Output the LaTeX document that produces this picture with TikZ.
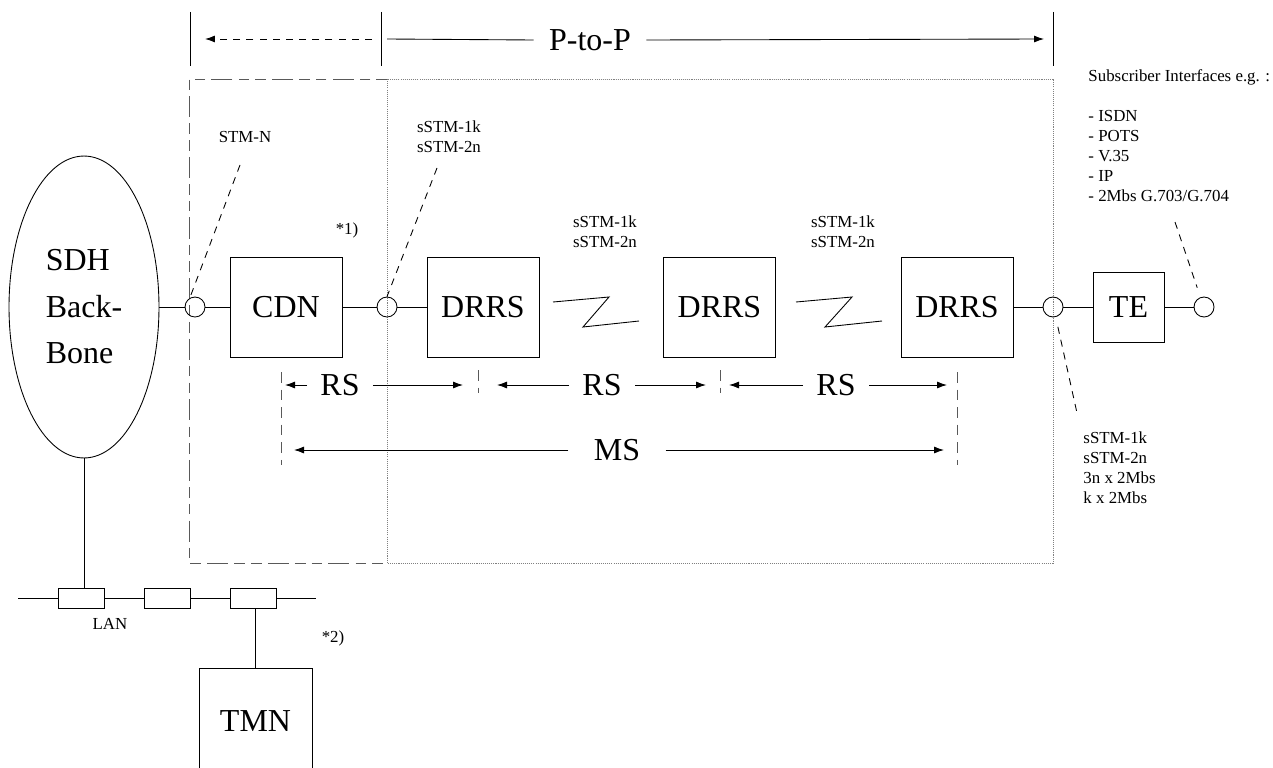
\documentclass[tikz,border=0pt]{standalone}
\usepackage{fontspec}
\setmainfont{Liberation Serif}
\usetikzlibrary{arrows.meta,shapes.geometric}
\newcommand{\bigtxt}{\fontsize{18.2}{26.5}\selectfont}
\newcommand{\smalltxt}{\fontsize{9.6}{11.4}\selectfont}

\begin{document}
\begin{tikzpicture}[x=0.02cm,y=-0.02cm,line width=0.5pt,
    unitbox/.style={draw,rectangle,minimum width=2.24cm,minimum height=2cm,font=\bigtxt,inner sep=0pt},
    port/.style={draw,circle,minimum size=0.4cm,inner sep=0pt},
    lanbox/.style={draw,rectangle,minimum width=0.92cm,minimum height=0.4cm,inner sep=0pt},
    lbl/.style={font=\smalltxt,align=left,inner sep=0pt},
    big/.style={font=\bigtxt,inner ysep=0pt,inner xsep=0.26cm},
    lead/.style={dash pattern=on 4pt off 3.5pt},
    septick/.style={gray!70!black,dash pattern=on 6pt off 4pt},
    dimarrow/.style={-{Latex[length=0.2cm,width=0.14cm]}}]
    \useasboundingbox (0,0) rectangle (1273,767);
    \clip (0,0) rectangle (1273,767);

    % frames
    \draw[gray!70!black,dash pattern=on 6pt off 3.5pt on 6pt off 3.5pt on 12pt off 3.5pt] (387,79) -- (189,79) -- (189,563) -- (387,563);
    \draw[gray,line width=0.4pt,dash pattern=on 0.6pt off 0.6pt] (387,79) rectangle (1053,563);

    % P-to-P span
    \draw (190,12) -- (190,66);
    \draw (381,12) -- (381,66);
    \draw (1053,12) -- (1053,66);
    \coordinate (bl) at (190,39);
    \coordinate (bm) at (381,39);
    \coordinate (br) at (1053,39);
    \node[big,inner xsep=0.3cm] (ptp) at (590,40) {P-to-P};
    \draw[lead,dimarrow] ([xshift=-0.18cm]bm) -- ([xshift=0.3cm]bl);
    \draw ([xshift=0.12cm]bm) -- (ptp.west);
    \draw[dimarrow] (ptp.east) -- ([xshift=-0.18cm]br);

    % main chain
    \node[draw,ellipse,minimum width=3cm,minimum height=6.04cm,font=\bigtxt,align=left,inner sep=0pt] (sdh) at (84,307) {SDH\\Back-\\Bone};
    \node[port] (p1) at (195,307) {};
    \node[unitbox] (cdn) at (286,307) {CDN};
    \node[port] (p2) at (387,307) {};
    \node[unitbox] (d1) at (483,307) {DRRS};
    \node[unitbox] (d2) at (719.5,307) {DRRS};
    \node[unitbox] (d3) at (957,307) {DRRS};
    \node[port] (p3) at (1053,307) {};
    \node[unitbox,minimum width=1.42cm,minimum height=1.4cm] (te) at (1128.5,307) {TE};
    \node[port] (p4) at (1204,307) {};
    \draw (sdh.east) -- (p1) -- (cdn) -- (p2) -- (d1);
    \draw (d3) -- (p3) -- (te) -- (p4);

    % radio hops
    \draw (553,302) -- (609,297) -- (583,327) -- (639,321);
    \draw (796,302) -- (852,297) -- (825,327) -- (882,321);

    % labels
    \node[lbl] (stmn) at (245,137) {STM-N};
    \node[lbl] (s1) at (449,137) {sSTM-1k\\sSTM-2n};
    \node[lbl] (s2) at (605,232) {sSTM-1k\\sSTM-2n};
    \node[lbl] (s3) at (843,232) {sSTM-1k\\sSTM-2n};
    \node[lbl] (star1) at (347,230) {*1)};
    \node[lbl,anchor=west] (subs) at (1088,136) {Subscriber Interfaces e.g. :\\[0.4cm]- ISDN\\- POTS\\- V.35\\- IP\\- 2Mbs G.703/G.704};
    \node[lbl,anchor=west] (tx) at (1083,468) {sSTM-1k\\sSTM-2n\\3n x 2Mbs\\k x 2Mbs};

    % leaders
    \coordinate (l1) at (240,165);
    \coordinate (l2) at (437,168);
    \coordinate (l3) at (1077,413);
    \coordinate (l4) at (1175,222);
    \draw[lead] (l1) -- (p1.120);
    \draw[lead] (l2) -- (p2.north);
    \draw[lead,shorten <=0.2cm] (p3.-75) -- (l3);
    \draw[lead,shorten >=0.2cm] (l4) -- (p4.110);

    % RS / MS sections
    \foreach \x in {281,957} \draw[septick] (\x,372) -- (\x,465);
    \foreach \x in {478,720} \draw[septick] (\x,370) -- (\x,393);
    \coordinate (t0) at (281,385);
    \coordinate (t1) at (478,385);
    \coordinate (t2) at (720,385);
    \coordinate (t3) at (957,385);
    \coordinate (m0) at (281,450);
    \coordinate (m3) at (957,450);
    \node[big] (rs1) at (340,385) {RS};
    \node[big] (rs2) at (602,385) {RS};
    \node[big] (rs3) at (836,385) {RS};
    \node[big,inner xsep=0.5cm] (ms) at (617,450) {MS};
    \draw[dimarrow] (rs1.west) -- ([xshift=0.08cm]t0);
    \draw[dimarrow] (rs1.east) -- ([xshift=-0.3cm]t1);
    \draw[dimarrow] (rs2.west) -- ([xshift=0.38cm]t1);
    \draw[dimarrow] (rs2.east) -- ([xshift=-0.28cm]t2);
    \draw[dimarrow] (rs3.west) -- ([xshift=0.18cm]t2);
    \draw[dimarrow] (rs3.east) -- ([xshift=-0.2cm]t3);
    \draw[dimarrow] (ms.west) -- ([xshift=0.26cm]m0);
    \draw[dimarrow] (ms.east) -- ([xshift=-0.26cm]m3);

    % management LAN
    \node[lanbox] (lan1) at (81.5,598) {};
    \node[lanbox] (lan2) at (167,598) {};
    \node[lanbox] (lan3) at (253,598) {};
    \coordinate (lanl) at (18,598);
    \coordinate (lanr) at (316,598);
    \draw (lanl) -- (lan1) -- (lan2) -- (lan3) -- (lanr);
    \draw (sdh.south) -- (sdh.south |- lan1.north);
    \node[unitbox,minimum width=2.26cm,minimum height=2.1cm,anchor=north] (tmn) at (255.5,668) {TMN};
    \draw (tmn.north |- lan3.south) -- (tmn.north);
    \node[lbl] (lan) at (110,624) {LAN};
    \node[lbl] (star2) at (333,638) {*2)};
\end{tikzpicture}
\end{document}
